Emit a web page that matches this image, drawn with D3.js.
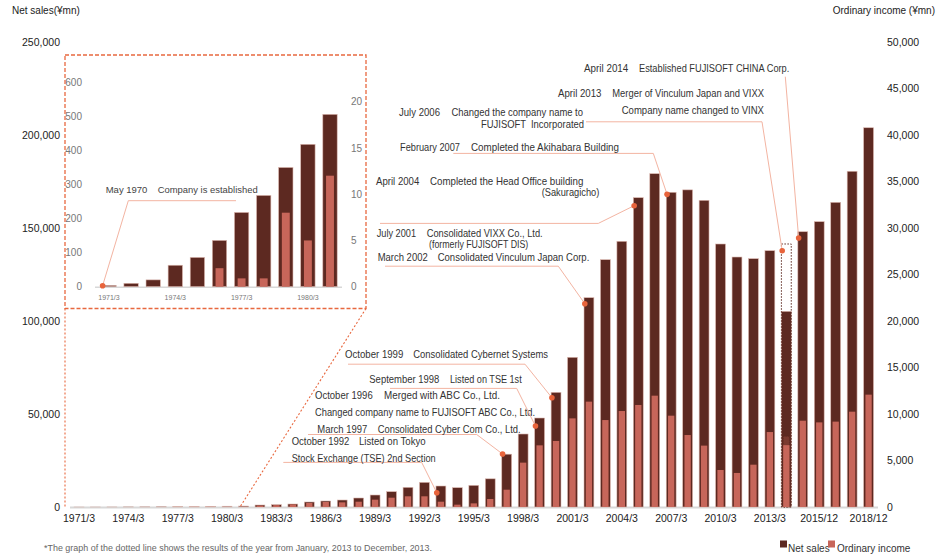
<!DOCTYPE html>
<html>
<head>
<meta charset="utf-8">
<script src="https://cdn.jsdelivr.net/npm/d3@7"></script>
<style>
  html, body { margin: 0; padding: 0; background: #ffffff; }
  svg { display: block; }
</style>
</head>
<body>
<div id="chart"></div>
<script>
// ---------------- DATA ----------------
const categories = [
  "1971/3","1972/3","1973/3","1974/3","1975/3","1976/3","1977/3","1978/3","1979/3","1980/3",
  "1981/3","1982/3","1983/3","1984/3","1985/3","1986/3","1987/3","1988/3","1989/3","1990/3",
  "1991/3","1992/3","1993/3","1994/3","1995/3","1996/3","1997/3","1998/3","1999/3","2000/3",
  "2001/3","2002/3","2003/3","2004/3","2005/3","2006/3","2007/3","2008/3","2009/3","2010/3",
  "2011/3","2012/3","2013/3","2013/12","2014/12","2015/12","2016/12","2017/12","2018/12"
];
const netSales = [
  4, 10, 20, 63, 86, 136, 218, 268, 350, 418,
  506, 1070, 1250, 1610, 2690, 3230, 3760, 4840, 6450, 8240,
  10570, 13250, 11290, 10390, 11650, 15150, 28400, 39250, 47850, 61650,
  80480, 112530, 132960, 142850, 166300, 179200, 169200, 170500, 164890, 141400,
  134400, 133500, 137800, 105200, 148000, 153400, 163800, 180500, 203900
];
const ordinaryIncome = [
  0, 0, 0, 0, 0, 2, 0.9, 0.9, 8, 5,
  12, 150, 200, 280, 430, 540, 500, 570, 790, 1000,
  1150, 1150, 570, 250, 390, 860, 1860, 4770, 6630, 7100,
  9530, 11330, 9350, 10320, 10970, 11970, 9820, 7740, 6600, 3980,
  3660, 4550, 8060, 6650, 9280, 9100, 9180, 10250, 12080
];
// calendar-2013 full-year results (dotted outline)
const dottedCategory = "2013/12";
const dottedNetSales = 141400;
const dottedOrdinaryIncome = 7600;

const tickLabels = ["1971/3","1974/3","1977/3","1980/3","1983/3","1986/3","1989/3","1992/3",
  "1995/3","1998/3","2001/3","2004/3","2007/3","2010/3","2013/3","2015/12","2018/12"];
const leftTicks = [0, 50000, 100000, 150000, 200000, 250000];
const rightTicks = [0, 5000, 10000, 15000, 20000, 25000, 30000, 35000, 40000, 45000, 50000];

const insetCount = 11; // 1971/3 .. 1981/3
const insetTickLabels = ["1971/3","1974/3","1977/3","1980/3"];
const insetLeftTicks = [0, 100, 200, 300, 400, 500, 600];
const insetRightTicks = [0, 5, 10, 15, 20];

// milestone events: category of the marker and its height (net sales scale)
const eventCats   = ["1993/3","1997/3","1999/3","2000/3","2002/3","2005/3","2007/3","2013/12","2014/12"];
const eventValues = [7690, 28490, 43550, 58760, 109300, 162000, 168100, 137800, 144600];
const insetEventCat = "1971/3";
const insetEventValue = 3;

// ---------------- LAYOUT (label placement) ----------------
const eventLabels = [
  { texts: [["October 1992",291.7,444.7,57.7],["Listed on Tokyo",359,444.7,66.7],
            ["Stock Exchange (TSE) 2nd Section",291.7,462,144]],
    line: [[283.3,462.4],[421.7,462.4]] },
  { texts: [["March 1997",317.3,433.3,50],["Consolidated Cyber Com Co., Ltd.",377.7,433.3,143],
            ["October 1996",315,399.3,57.7],["Merged with ABC Co., Ltd.",384,399.3,116],
            ["Changed company name to FUJISOFT ABC Co., Ltd.",315,416,220]],
    line: [[308,434.5],[476.7,434.5]] },
  { texts: [["September 1998",369.3,383.3,70],["Listed on TSE 1st",450,383.3,71.7]],
    line: [[390,388.4],[516.7,388.4]] },
  { texts: [["October 1999",345,358,58.3],["Consolidated Cybernet Systems",413.3,358,134.7]],
    line: [[348,364.2],[525,364.2]] },
  { texts: [["July 2001",376.7,237.3,39.3],["Consolidated VIXX Co., Ltd.",426.7,237.3,116],
            ["(formerly FUJISOFT DIS)",429,248.3,99.3],
            ["March 2002",377.7,260.7,50],["Consolidated Vinculum Japan Corp.",437.7,260.7,151.6]],
    line: [[385,266.2],[558.3,266.2]] },
  { texts: [["April 2004",376,185,43.3],["Completed the Head Office building",430,185,153.3],
            ["(Sakuragicho)",541.7,196.3,57.6]],
    line: [[380,223.4],[598.3,223.4]] },
  { texts: [["February 2007",400,151.3,60],["Completed the Akihabara Building",471,151.3,148]],
    line: [[453.3,153.4],[653.3,153.4]] },
  { texts: [["July 2006",399,115.7,41],["Changed the company name to",451.4,115.7,131.6],
            ["FUJISOFT",481,128,45],["Incorporated",531,128,53],
            ["April 2013",558,96.7,43.5],["Merger of Vinculum Japan and VIXX",612.3,96.7,151.7],
            ["Company name changed to VINX",621.7,114,142.3]],
    line: [[586,121.8],[762,121.8]] },
  { texts: [["April 2014",584,71.5,44.3],["Established FUJISOFT CHINA Corp.",639,71.5,150.3]],
    line: [[785.3,76.7]] }
];

// ---------------- DRAW ----------------
const W = 938, H = 558;
const DARK = "#5d2921", LIGHT = "#c7665a", DOT = "#e8643c", LEADER = "#f3b4a2", BOX = "#e8683f";
const SANS = "'Liberation Sans', Arial, sans-serif";
const NARROW = "'Liberation Sans Narrow', 'Arial Narrow', 'Liberation Sans', Arial, sans-serif";

const svg = d3.select("#chart").append("svg").attr("width", W).attr("height", H);

const x = d3.scaleBand().domain(categories).range([70.8, 876.8]).paddingInner(0.4).paddingOuter(0.2);
const yL = d3.scaleLinear().domain([0, 250000]).range([507, 42]);
const yR = d3.scaleLinear().domain([0, 50000]).range([507, 42]);
const bw = x.bandwidth();
const lw = bw * 0.64;

// titles
svg.append("text").attr("x", 12).attr("y", 14).attr("font-family", SANS).attr("font-size", 10)
  .attr("fill", "#222").text("Net sales(¥mn)");
svg.append("text").attr("x", 935).attr("y", 14).attr("text-anchor", "end").attr("font-family", SANS)
  .attr("font-size", 10).attr("fill", "#222").text("Ordinary income (¥mn)");

// axes
const gL = svg.append("g").attr("transform", "translate(60,0)")
  .call(d3.axisLeft(yL).tickValues(leftTicks).tickFormat(d3.format(",")).tickSize(0).tickPadding(0));
const gR = svg.append("g").attr("transform", "translate(887,0)")
  .call(d3.axisRight(yR).tickValues(rightTicks).tickFormat(d3.format(",")).tickSize(0).tickPadding(0));
const gX = svg.append("g").attr("transform", "translate(0,507)")
  .call(d3.axisBottom(x).tickValues(tickLabels).tickSize(0).tickPadding(7.6));
[gL, gR, gX].forEach(g => {
  g.select(".domain").remove();
  g.selectAll("text").attr("font-family", SANS).attr("font-size", 10.5).attr("fill", "#222");
});

// baseline
svg.append("line").attr("x1", 70).attr("x2", 878).attr("y1", 507.5).attr("y2", 507.5)
  .attr("stroke", "#d8d8d8").attr("stroke-width", 2);

// bars
const bars = svg.append("g");
bars.selectAll("rect.ns").data(categories).join("rect").attr("class", "ns")
  .attr("x", d => x(d)).attr("width", bw)
  .attr("y", (d, i) => yL(netSales[i])).attr("height", (d, i) => 507 - yL(netSales[i]))
  .attr("fill", DARK).attr("stroke", "#dcb8b0").attr("stroke-width", 0.6);
// dotted outline (calendar 2013)
bars.append("rect").attr("x", x(dottedCategory)).attr("width", bw)
  .attr("y", yL(dottedNetSales)).attr("height", 507 - yL(dottedNetSales))
  .attr("fill", "none").attr("stroke", DARK).attr("stroke-width", 1).attr("stroke-dasharray", "1.5,1.5");
bars.append("rect").attr("x", x(dottedCategory) + (bw - lw) / 2).attr("width", lw)
  .attr("y", yR(dottedOrdinaryIncome)).attr("height", 507 - yR(dottedOrdinaryIncome))
  .attr("fill", "#7a3a30").attr("stroke", DARK).attr("stroke-width", 0.8).attr("stroke-dasharray", "1.2,1.2");
bars.selectAll("rect.oi").data(categories).join("rect").attr("class", "oi")
  .attr("x", d => x(d) + (bw - lw) / 2).attr("width", lw)
  .attr("y", (d, i) => yR(ordinaryIncome[i])).attr("height", (d, i) => 507 - yR(ordinaryIncome[i]))
  .attr("fill", LIGHT);

// annotations
const ann = svg.append("g");
eventLabels.forEach((e, i) => {
  const px = x(eventCats[i]) + 0.8, py = yL(eventValues[i]);
  const pts = e.line.concat([[px, py]]);
  ann.append("path").attr("d", d3.line()(pts)).attr("fill", "none")
    .attr("stroke", LEADER).attr("stroke-width", 1);
  ann.append("circle").attr("cx", px).attr("cy", py).attr("r", 2.8).attr("fill", DOT);
  e.texts.forEach(t => {
    ann.append("text").attr("x", t[1]).attr("y", t[2]).attr("font-family", NARROW)
      .attr("font-size", 11).attr("fill", "#333")
      .attr("textLength", t[3]).attr("lengthAdjust", "spacingAndGlyphs").text(t[0]);
  });
});

// ---------------- INSET ----------------
const inset = svg.append("g");
const insetCats = categories.slice(0, insetCount);
const xi = d3.scaleBand().domain(insetCats).range([97.95, 341.05]).paddingInner(0.35).paddingOuter(0.175);
const yiL = d3.scaleLinear().domain([0, 600]).range([286.7, 82.3]);
const yiR = d3.scaleLinear().domain([0, 20]).range([286.7, 101.7]);
const bwi = xi.bandwidth(), lwi = bwi * 0.55;

inset.append("rect").attr("x", 65).attr("y", 55).attr("width", 301).attr("height", 253.5)
  .attr("fill", "#fff").attr("stroke", BOX).attr("stroke-width", 1.3).attr("stroke-dasharray", "4,2");
// connectors to main chart
inset.append("line").attr("x1", 65).attr("y1", 308.5).attr("x2", 65).attr("y2", 507)
  .attr("stroke", BOX).attr("stroke-width", 1.1).attr("stroke-dasharray", "2,2");
inset.append("line").attr("x1", 366).attr("y1", 308.5).attr("x2", 240).attr("y2", 507)
  .attr("stroke", BOX).attr("stroke-width", 1.1).attr("stroke-dasharray", "2,2");

const giL = inset.append("g").attr("transform", "translate(82,0)")
  .call(d3.axisLeft(yiL).tickValues(insetLeftTicks).tickSize(0).tickPadding(0));
const giR = inset.append("g").attr("transform", "translate(351,0)")
  .call(d3.axisRight(yiR).tickValues(insetRightTicks).tickSize(0).tickPadding(0));
const giX = inset.append("g").attr("transform", "translate(0,287)")
  .call(d3.axisBottom(xi).tickValues(insetTickLabels).tickSize(0).tickPadding(8.5));
[giL, giR].forEach(g => {
  g.select(".domain").remove();
  g.selectAll("text").attr("font-family", SANS).attr("font-size", 10).attr("fill", "#777");
});
giX.select(".domain").remove();
giX.selectAll("text").attr("font-family", SANS).attr("font-size", 7).attr("fill", "#777");

inset.append("line").attr("x1", 95).attr("x2", 342).attr("y1", 287.3).attr("y2", 287.3)
  .attr("stroke", "#d8d8d8").attr("stroke-width", 1.5);

inset.selectAll("rect.ins").data(insetCats).join("rect").attr("class", "ins")
  .attr("x", d => xi(d)).attr("width", bwi)
  .attr("y", (d, i) => yiL(netSales[i])).attr("height", (d, i) => 286.7 - yiL(netSales[i]))
  .attr("fill", DARK).attr("stroke", "#dcb8b0").attr("stroke-width", 0.6);
inset.selectAll("rect.ioi").data(insetCats).join("rect").attr("class", "ioi")
  .attr("x", d => xi(d) + (bwi - lwi) / 2).attr("width", lwi)
  .attr("y", (d, i) => yiR(ordinaryIncome[i])).attr("height", (d, i) => 286.7 - yiR(ordinaryIncome[i]))
  .attr("fill", LIGHT);

{
  const px = xi(insetEventCat) + 0.8, py = yiL(insetEventValue);
  inset.append("path").attr("d", d3.line()([[236, 200.7], [128.3, 200.7], [px, py]]))
    .attr("fill", "none").attr("stroke", LEADER).attr("stroke-width", 1);
  inset.append("circle").attr("cx", px).attr("cy", py).attr("r", 2.8).attr("fill", DOT);
  inset.append("text").attr("x", 105.7).attr("y", 192.6).attr("font-family", SANS)
    .attr("font-size", 9.5).attr("fill", "#444").text("May 1970");
  inset.append("text").attr("x", 157.7).attr("y", 192.6).attr("font-family", SANS)
    .attr("font-size", 9.5).attr("fill", "#444").attr("textLength", 100)
    .attr("lengthAdjust", "spacingAndGlyphs").text("Company is established");
}

// ---------------- LEGEND & NOTE ----------------
svg.append("rect").attr("x", 780).attr("y", 540.5).attr("width", 7).attr("height", 7).attr("fill", DARK);
svg.append("text").attr("x", 788).attr("y", 551.5).attr("font-family", SANS).attr("font-size", 10)
  .attr("fill", "#333").text("Net sales");
svg.append("rect").attr("x", 828).attr("y", 540.5).attr("width", 7).attr("height", 7).attr("fill", LIGHT);
svg.append("text").attr("x", 837).attr("y", 551.5).attr("font-family", SANS).attr("font-size", 10)
  .attr("fill", "#333").text("Ordinary income");

svg.append("text").attr("x", 44).attr("y", 550.5).attr("font-family", SANS).attr("font-size", 9.5)
  .attr("fill", "#666").attr("textLength", 388).attr("lengthAdjust", "spacingAndGlyphs")
  .text("*The graph of the dotted line shows the results of the year from January, 2013 to December, 2013.");
</script>
</body>
</html>
